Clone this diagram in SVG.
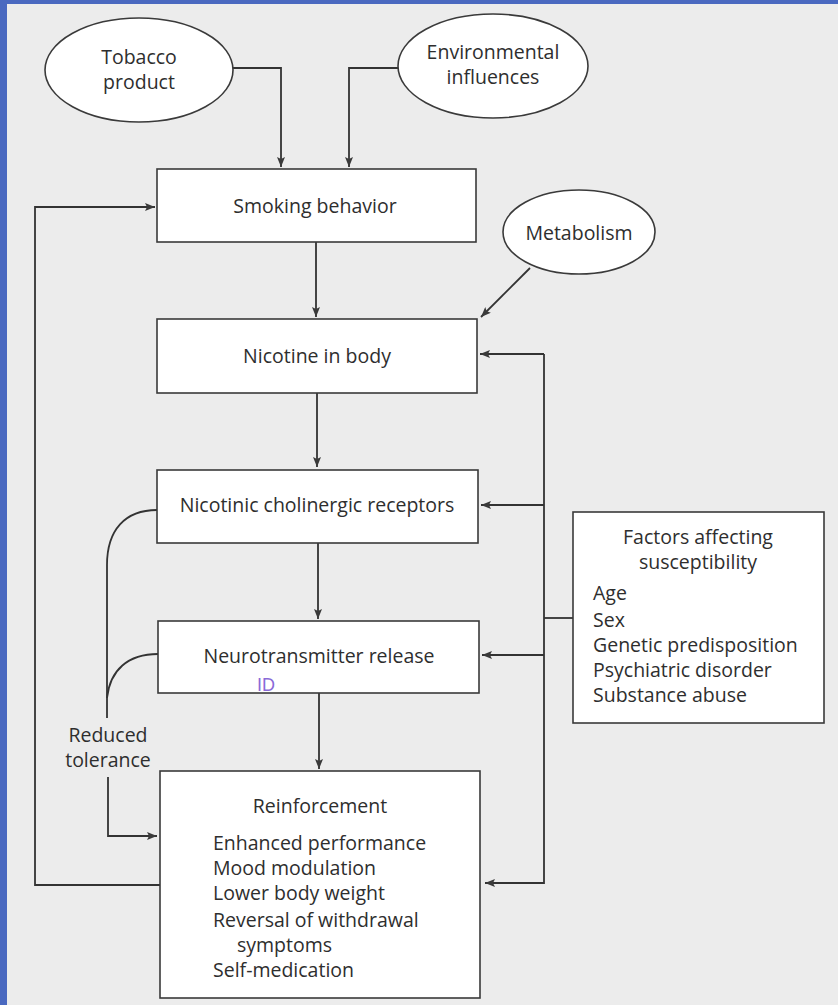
<svg xmlns="http://www.w3.org/2000/svg" width="838" height="1005" viewBox="0 0 838 1005">
<defs>
<style>
.bg{fill:#ececec}
.node{fill:#ffffff;stroke:#3a3a3a;stroke-width:1.6}
.t{font-family:"Open Sans","Liberation Sans",sans-serif;font-size:19.5px;fill:#2e2e2e}
.c{text-anchor:middle}
.ln{fill:none;stroke:#333;stroke-width:1.8}
.hand{font-family:"Liberation Sans",sans-serif;font-size:18px;fill:#8a6ad8}
</style>
<marker id="ah" viewBox="0 0 10 8" refX="10" refY="4" markerWidth="10" markerHeight="8" markerUnits="userSpaceOnUse" orient="auto">
<path d="M0,0 L10,4 L0,8 L2,4 Z" fill="#3a3a3a"/>
</marker>
</defs>
<rect class="bg" x="0" y="0" width="838" height="1005"/>
<rect x="0" y="0" width="838" height="4" fill="#4a69c0"/>
<rect x="0" y="0" width="7" height="1005" fill="#4a69c0"/>

<g id="connectors">
<path class="ln" d="M233,68 H281 V167" marker-end="url(#ah)"/>
<path class="ln" d="M398,68 H349 V167" marker-end="url(#ah)"/>
<path class="ln" d="M316,242 V317" marker-end="url(#ah)"/>
<path class="ln" d="M530,268 L481,317" marker-end="url(#ah)"/>
<path class="ln" d="M317,393 V467" marker-end="url(#ah)"/>
<path class="ln" d="M318,543 V619" marker-end="url(#ah)"/>
<path class="ln" d="M319,693 V769" marker-end="url(#ah)"/>
<path class="ln" d="M160,885 H35 V207 H155" marker-end="url(#ah)"/>
<path class="ln" d="M544,354 H480" marker-end="url(#ah)"/>
<path class="ln" d="M544,505 H481" marker-end="url(#ah)"/>
<path class="ln" d="M544,655 H482" marker-end="url(#ah)"/>
<path class="ln" d="M544,354 V883 H485" marker-end="url(#ah)"/>
<path class="ln" d="M544,618 H573"/>
<path class="ln" d="M157,510 C125,510 107,530 107,565 V718"/>
<path class="ln" d="M158,654 C128,654 110,670 107,698"/>
<path class="ln" d="M108,777 V836 H157" marker-end="url(#ah)"/>
</g>

<g id="tobacco">
<ellipse class="node" cx="139" cy="70" rx="94" ry="52"/>
<text class="t c" x="139" y="64">Tobacco</text>
<text class="t c" x="139" y="89">product</text>
</g>
<g id="environmental">
<ellipse class="node" cx="493" cy="66" rx="95" ry="52"/>
<text class="t c" x="493" y="59">Environmental</text>
<text class="t c" x="493" y="84">influences</text>
</g>
<g id="metabolism">
<ellipse class="node" cx="579" cy="232" rx="76" ry="42"/>
<text class="t c" x="579" y="240">Metabolism</text>
</g>
<g id="smoking">
<rect class="node" x="157" y="169" width="319" height="73"/>
<text class="t c" x="315" y="213">Smoking behavior</text>
</g>
<g id="nicotine">
<rect class="node" x="157" y="319" width="320" height="74"/>
<text class="t c" x="317" y="363">Nicotine in body</text>
</g>
<g id="receptors">
<rect class="node" x="157" y="470" width="321" height="73"/>
<text class="t c" x="317" y="512">Nicotinic cholinergic receptors</text>
</g>
<g id="neurotransmitter">
<rect class="node" x="158" y="621" width="321" height="72"/>
<text class="t c" x="319" y="663">Neurotransmitter release</text>
<text class="hand" x="257" y="691">ID</text>
</g>
<g id="reduced-tolerance">
<text class="t c" x="108" y="742">Reduced</text>
<text class="t c" x="108" y="767">tolerance</text>
</g>
<g id="reinforcement">
<rect class="node" x="160" y="771" width="320" height="227"/>
<text class="t c" x="320" y="813">Reinforcement</text>
<text class="t" x="213" y="850">Enhanced performance</text>
<text class="t" x="213" y="875">Mood modulation</text>
<text class="t" x="213" y="900">Lower body weight</text>
<text class="t" x="213" y="927">Reversal of withdrawal</text>
<text class="t" x="237" y="952">symptoms</text>
<text class="t" x="213" y="977">Self-medication</text>
</g>
<g id="factors">
<rect class="node" x="573" y="512" width="251" height="211"/>
<text class="t c" x="698" y="544">Factors affecting</text>
<text class="t c" x="698" y="569">susceptibility</text>
<text class="t" x="593" y="600">Age</text>
<text class="t" x="593" y="627">Sex</text>
<text class="t" x="593" y="652">Genetic predisposition</text>
<text class="t" x="593" y="677">Psychiatric disorder</text>
<text class="t" x="593" y="702">Substance abuse</text>
</g>
</svg>
